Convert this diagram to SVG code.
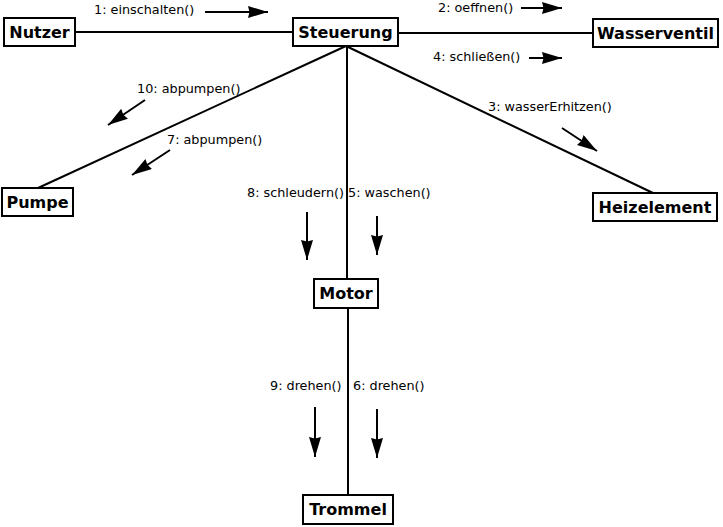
<svg xmlns="http://www.w3.org/2000/svg" width="723" height="527" viewBox="0 0 723 527">
<style>
.box{fill:#fff;stroke:#000;stroke-width:2}
.name{font-family:"DejaVu Sans",sans-serif;font-weight:bold;font-size:16px;text-anchor:middle;fill:#000}
.lbl{font-family:"DejaVu Sans",sans-serif;font-size:12.8px;fill:#000}
.link{stroke:#000;stroke-width:2;fill:none}
.msg{stroke:#000;stroke-width:2;fill:none;marker-end:url(#ah)}
</style>
<defs>
<marker id="ah" markerUnits="userSpaceOnUse" markerWidth="22" markerHeight="14" refX="20" refY="6" orient="auto">
<path d="M0,0 L20,6 L0,12 L1.5,6 Z" fill="#000"/>
</marker>
</defs>
<rect width="723" height="527" fill="#fff"/>
<g id="connectors">
<line class="link" x1="75" y1="32" x2="293" y2="32"/>
<line class="link" x1="398" y1="33" x2="593" y2="33"/>
<line class="link" x1="346" y1="46" x2="38" y2="188"/>
<line class="link" x1="346" y1="46" x2="653" y2="193"/>
<line class="link" x1="347" y1="46" x2="347" y2="279"/>
<line class="link" x1="348" y1="308" x2="348" y2="495"/>
</g>
<g id="messages">
<text class="lbl" x="94" y="14">1: einschalten()</text>
<line class="msg" x1="205" y1="12" x2="268" y2="12"/>
<text class="lbl" x="438" y="12">2: oeffnen()</text>
<line class="msg" x1="521" y1="8" x2="562" y2="8"/>
<text class="lbl" x="433" y="61">4: schließen()</text>
<line class="msg" x1="529" y1="58" x2="562" y2="58"/>
<text class="lbl" x="488" y="111">3: wasserErhitzen()</text>
<line class="msg" x1="562" y1="128" x2="597" y2="151"/>
<text class="lbl" x="137" y="93">10: abpumpen()</text>
<line class="msg" x1="145" y1="100" x2="108" y2="125"/>
<text class="lbl" x="167" y="144">7: abpumpen()</text>
<line class="msg" x1="170" y1="150" x2="132" y2="175"/>
<text class="lbl" x="247" y="197">8: schleudern()</text>
<line class="msg" x1="307" y1="212" x2="307" y2="260"/>
<text class="lbl" x="348" y="197">5: waschen()</text>
<line class="msg" x1="377" y1="216" x2="377" y2="255"/>
<text class="lbl" x="270" y="390">9: drehen()</text>
<line class="msg" x1="315" y1="407" x2="315" y2="457"/>
<text class="lbl" x="353" y="390">6: drehen()</text>
<line class="msg" x1="377" y1="409" x2="377" y2="458"/>
</g>
<g id="nutzer"><rect class="box" x="4" y="18" width="71" height="28"/><text class="name" x="39.5" y="38">Nutzer</text></g>
<g id="steuerung"><rect class="box" x="293" y="18" width="105" height="28"/><text class="name" x="345.5" y="38">Steuerung</text></g>
<g id="wasserventil"><rect class="box" x="593" y="19" width="125" height="28"/><text class="name" x="655.5" y="39">Wasserventil</text></g>
<g id="pumpe"><rect class="box" x="2" y="188" width="71" height="28"/><text class="name" x="37.5" y="208">Pumpe</text></g>
<g id="heizelement"><rect class="box" x="593" y="193" width="124" height="28"/><text class="name" x="655" y="213">Heizelement</text></g>
<g id="motor"><rect class="box" x="314" y="279" width="64" height="29"/><text class="name" x="346" y="299">Motor</text></g>
<g id="trommel"><rect class="box" x="303" y="495" width="90" height="29"/><text class="name" x="348" y="515">Trommel</text></g>
</svg>
